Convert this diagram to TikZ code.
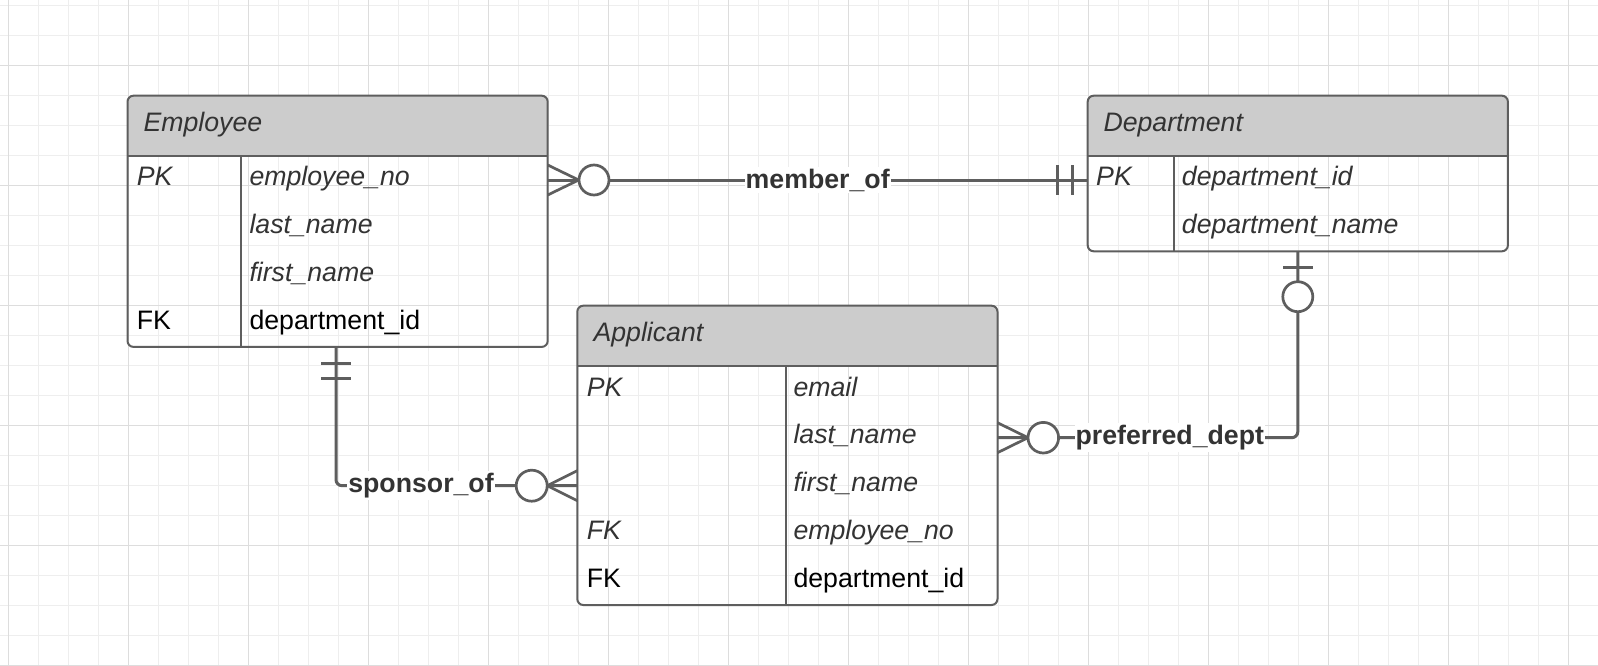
\documentclass[tikz,border=0pt]{standalone}
\usepackage{fontspec}
\setmainfont{Liberation Sans}
\usetikzlibrary{calc}
\definecolor{gridminor}{HTML}{EEEEEE}
\definecolor{gridmajor}{HTML}{DDDDDD}
\definecolor{linegray}{HTML}{5E5E5E}
\definecolor{headgray}{HTML}{CCCCCC}
\definecolor{txtgray}{HTML}{333333}
\begin{document}
\begin{tikzpicture}[x=1pt,y=-1pt,
  tblnode/.style={inner sep=0pt, outer sep=0pt, minimum width=420.2pt, anchor=north west},
  tblline/.style={draw=linegray, line width=2pt},
  fld/.style={anchor=base west, inner sep=0pt, font=\fontsize{26.7}{32}\selectfont\itshape, text=txtgray},
  fldk/.style={anchor=base west, inner sep=0pt, font=\fontsize{26.7}{32}\selectfont, text=black},
  conn/.style={draw=linegray, line width=3pt},
  crowline/.style={draw=linegray, line width=2.7pt},
  zeroring/.style={draw=linegray, line width=2.7pt, fill=white},
  lbl/.style={fill=white, inner xsep=1pt, inner ysep=2pt, anchor=base, font=\fontsize{26.7}{32}\selectfont\bfseries, text=txtgray}
]
\useasboundingbox (0,0) rectangle (1598,666);
\fill[white] (0,0) rectangle (1598,666);
% grid
\foreach \i in {0,...,52} \draw[gridminor, line width=1pt] ({8.3+30*\i},0) -- ({8.3+30*\i},666);
\foreach \j in {0,...,22} \draw[gridminor, line width=1pt] (0,{5.5+30*\j}) -- (1598,{5.5+30*\j});
\foreach \i in {0,...,13} \draw[gridmajor, line width=1pt] ({8.3+120*\i},0) -- ({8.3+120*\i},666);
\foreach \j in {0,...,5} \draw[gridmajor, line width=1pt] (0,{65.5+120*\j}) -- (1598,{65.5+120*\j});

% ---------- Employee ----------
\node[tblnode, minimum height=251.2pt] (emp) at (127.5,95.7) {};
\begin{scope}
\clip[rounded corners=6pt] (emp.north west) rectangle (emp.south east);
\fill[headgray] (emp.north west) rectangle ($(emp.north east)+(0,60)$);
\end{scope}
\draw[tblline, rounded corners=6pt] (emp.north west) rectangle (emp.south east);
\draw[tblline] ($(emp.north west)+(0,60)$) -- ($(emp.north east)+(0,60)$);
\draw[tblline] ($(emp.north west)+(113.5,60)$) -- ($(emp.south west)+(113.5,0)$);
\node[fld] (emp-t) at (143.3,131.7) {Employee};
\node[fld] (emp-pk) at (136.7,185.7) {PK};
\node[fld] (emp-f1) at (249.3,185.7) {employee\_no};
\node[fld] (emp-f2) at (249.3,233.5) {last\_name};
\node[fld] (emp-f3) at (249.3,281.3) {first\_name};
\node[fldk] (emp-fk) at (136.7,329.1) {FK};
\node[fldk] (emp-f4) at (249.3,329.1) {department\_id};

% ---------- Department ----------
\node[tblnode, minimum height=155.6pt] (dep) at (1087.7,95.7) {};
\begin{scope}
\clip[rounded corners=6pt] (dep.north west) rectangle (dep.south east);
\fill[headgray] (dep.north west) rectangle ($(dep.north east)+(0,60)$);
\end{scope}
\draw[tblline, rounded corners=6pt] (dep.north west) rectangle (dep.south east);
\draw[tblline] ($(dep.north west)+(0,60)$) -- ($(dep.north east)+(0,60)$);
\draw[tblline] ($(dep.north west)+(86.3,60)$) -- ($(dep.south west)+(86.3,0)$);
\node[fld] (dep-t) at (1103.3,131.7) {Department};
\node[fld] (dep-pk) at (1096,185.7) {PK};
\node[fld] (dep-f1) at (1181.7,185.7) {department\_id};
\node[fld] (dep-f2) at (1181.7,233.5) {department\_name};

% ---------- Applicant ----------
\node[tblnode, minimum height=299.3pt] (app) at (577.3,305.7) {};
\begin{scope}
\clip[rounded corners=6pt] (app.north west) rectangle (app.south east);
\fill[headgray] (app.north west) rectangle ($(app.north east)+(0,60.3)$);
\end{scope}
\draw[tblline, rounded corners=6pt] (app.north west) rectangle (app.south east);
\draw[tblline] ($(app.north west)+(0,60.3)$) -- ($(app.north east)+(0,60.3)$);
\draw[tblline] ($(app.north west)+(208.4,60.3)$) -- ($(app.south west)+(208.4,0)$);
\node[fld] (app-t) at (593.3,341.7) {Applicant};
\node[fld] (app-pk) at (586.7,396) {PK};
\node[fld] (app-f1) at (793.3,396) {email};
\node[fld] (app-f2) at (793.3,443.8) {last\_name};
\node[fld] (app-f3) at (793.3,491.6) {first\_name};
\node[fld] (app-fk1) at (586.7,539.4) {FK};
\node[fld] (app-f4) at (793.3,539.4) {employee\_no};
\node[fldk] (app-fk2) at (586.7,587.2) {FK};
\node[fldk] (app-f5) at (793.3,587.2) {department\_id};

% ---------- member_of ----------
\coordinate (mA) at ($(emp.north east)+(0,84.3)$);
\coordinate (mB) at ($(dep.north west)+(0,84.3)$);
\draw[conn] (mA) -- (mB);
\draw[crowline] ($(mA)+(0,-15)$) -- ($(mA)+(31,0)$) -- ($(mA)+(0,15)$);
\draw[zeroring] ($(mA)+(46.3,0)$) circle[radius=15];
\draw[crowline] ($(mB)+(-30.4,-15)$) -- ++(0,30);
\draw[crowline] ($(mB)+(-15.4,-15)$) -- ++(0,30);
\node[lbl] (mlbl) at ($(mA)!0.5!(mB)+(0,8)$) {member\_of};

% ---------- preferred_dept ----------
\coordinate (pA) at ($(app.north east)+(0,132)$);
\coordinate (pB) at (dep.south);
\draw[conn, rounded corners=6pt] (pA) -| (pB);
\draw[crowline] ($(pA)+(0,-15)$) -- ($(pA)+(30.5,0)$) -- ($(pA)+(0,15)$);
\draw[zeroring] ($(pA)+(45.8,0)$) circle[radius=15.3];
\draw[crowline] ($(pB)+(-14.7,16)$) -- ++(29.4,0);
\draw[zeroring] ($(pB)+(0,45.4)$) circle[radius=15];
\node[lbl] (plbl) at ($(pA)+(172.3,7)$) {preferred\_dept};

% ---------- sponsor_of ----------
\coordinate (sA) at ($(emp.south west)+(208.5,0)$);
\coordinate (sB) at ($(app.north west)+(0,180)$);
\draw[conn, rounded corners=6pt] (sA) |- (sB);
\draw[crowline] ($(sA)+(-14.7,16.4)$) -- ++(29.4,0);
\draw[crowline] ($(sA)+(-14.7,31.4)$) -- ++(29.4,0);
\draw[crowline] ($(sB)+(0,-15)$) -- ($(sB)+(-30,0)$) -- ($(sB)+(0,15)$);
\draw[zeroring] ($(sB)+(-45.6,0)$) circle[radius=15.5];
\node[lbl] (slbl) at ($(sB)+(-156.3,6.3)$) {sponsor\_of};
\end{tikzpicture}
\end{document}
